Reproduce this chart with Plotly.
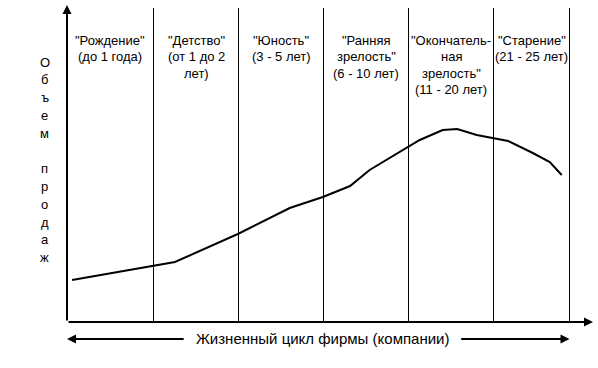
import plotly.graph_objects as go

# ---- data ----
curve_x = [0.06, 1.01, 1.27, 2.01, 2.62, 3.01, 3.33, 3.56, 3.88, 4.15, 4.42, 4.59, 4.82, 5.01, 5.19, 5.48, 5.68, 5.82]
curve_y = [13.25, 17.67, 18.93, 27.76, 35.96, 39.43, 42.90, 47.95, 53.0, 57.41, 60.57, 60.88, 58.99, 58.04, 57.10, 53.31, 50.47, 46.37]
boundaries = [1.018, 2.018, 3.018, 4.018, 5.018, 5.912]
stage_labels = [
    ['"Рождение"', '(до 1 года)'],
    ['"Детство"', '(от 1 до 2', 'лет)'],
    ['"Юность"', '(3 - 5 лет)'],
    ['"Ранняя', 'зрелость"', '(6 - 10 лет)'],
    ['"Окончатель-', 'ная', 'зрелость"', '(11 - 20 лет)'],
    ['"Старение"', '(21 - 25 лет)'],
]
y_title = "Объем продаж"
x_title = "Жизненный цикл фирмы (компании)"

FONT = "Arial, 'Liberation Sans', sans-serif"
X_MAX = 526 / 85.0
Y_MAX = 100.0

fig = go.Figure()
fig.add_trace(go.Scatter(x=curve_x, y=curve_y, mode="lines",
                         line=dict(color="black", width=2), hoverinfo="skip"))

shapes = []
for b in boundaries:
    shapes.append(dict(type="line", xref="x", yref="y", x0=b, x1=b, y0=0, y1=99.05,
                       line=dict(color="black", width=1)))

annotations = []
# axes arrows
annotations.append(dict(xref="x", yref="y", axref="x", ayref="y", x=0, y=Y_MAX, ax=0, ay=0,
                        showarrow=True, arrowhead=2, arrowsize=0.9, arrowwidth=2,
                        arrowcolor="black", text=""))
annotations.append(dict(xref="x", yref="y", axref="x", ayref="y", x=X_MAX, y=0, ax=0, ay=0,
                        showarrow=True, arrowhead=2, arrowsize=0.9, arrowwidth=2,
                        arrowcolor="black", text=""))

# stage labels
starts = [0.0] + boundaries[:-1]
for s, e, lines in zip(starts, boundaries, stage_labels):
    cx = (s + e) / 2
    for i, ln in enumerate(lines):
        annotations.append(dict(xref="x", yref="y", x=cx, y=88.9 - i * 5.2, text=ln,
                                showarrow=False, xanchor="center", yanchor="middle",
                                font=dict(family=FONT, size=13, color="black")))

# vertical y title (stacked letters), placed left of the plot
for i, ch in enumerate(y_title):
    if ch == " ":
        continue
    annotations.append(dict(xref="paper", yref="y", x=-0.26 / X_MAX, y=82.0 - i * 5.61, text=ch,
                            showarrow=False, xanchor="center", yanchor="middle",
                            font=dict(family=FONT, size=13, color="black")))

# x title with arrows (below plot area)
XT_Y = -0.0536
annotations.append(dict(xref="paper", yref="paper", x=3.01 / X_MAX, y=XT_Y + 0.003, text=x_title,
                        showarrow=False, xanchor="center", yanchor="middle",
                        font=dict(family=FONT, size=15, color="black")))
annotations.append(dict(xref="x", yref="paper", axref="x", ayref="pixel", x=0, y=XT_Y,
                        ax=1.39, ay=0,
                        showarrow=True, arrowhead=2, arrowsize=0.9, arrowwidth=2,
                        arrowcolor="black", text=""))
annotations.append(dict(xref="x", yref="paper", axref="x", ayref="pixel", x=boundaries[-1], y=XT_Y,
                        ax=4.62, ay=0,
                        showarrow=True, arrowhead=2, arrowsize=0.9, arrowwidth=2,
                        arrowcolor="black", text=""))

fig.update_layout(
    width=598, height=368,
    margin=dict(l=67, r=5, t=5, b=46),
    paper_bgcolor="white", plot_bgcolor="white",
    showlegend=False,
    shapes=shapes, annotations=annotations,
    xaxis=dict(range=[0, X_MAX], showgrid=False, zeroline=False, showticklabels=False,
               ticks="", showline=False, fixedrange=True),
    yaxis=dict(range=[0, Y_MAX], showgrid=False, zeroline=False, showticklabels=False,
               ticks="", showline=False, fixedrange=True),
)

fig.write_html("out.html", config={"displayModeBar": False},
               post_script="document.body.style.margin='0';document.body.style.overflow='hidden';")
